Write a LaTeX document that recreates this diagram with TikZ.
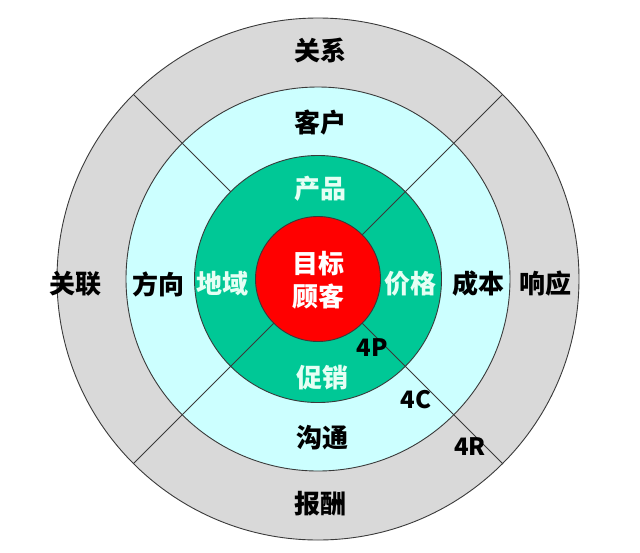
\documentclass[tikz,border=0pt]{standalone}
\usepackage{fontspec}
\newfontfamily\cjk{Noto Sans CJK SC}
\definecolor{ringgray}{HTML}{D9D9D9}
\definecolor{ringcyan}{HTML}{CCFFFF}
\definecolor{ringgreen}{HTML}{00C896}
\definecolor{ringred}{HTML}{FF0000}
\definecolor{edge}{HTML}{3A3A3A}
\definecolor{greentext}{HTML}{E6FFF4}
\begin{document}
\begin{tikzpicture}[x=1pt,y=-1pt,
  ring/.style={circle,draw=edge,line width=0.9pt,inner sep=0pt,outer sep=0pt},
  divider/.style={draw=edge,line width=0.8pt},
  lbl/.style={font=\cjk\bfseries\fontsize{26}{26}\selectfont,text=black,inner sep=0pt},
  glbl/.style={lbl,text=greentext},
  clbl/.style={lbl,text=white,align=center,font=\cjk\bfseries\fontsize{26}{33}\selectfont},
  plbl/.style={font=\cjk\bfseries\fontsize{24}{24}\selectfont,text=black,inner sep=0pt}]
\useasboundingbox (0,0) rectangle (640,552);
\fill[white] (0,0) rectangle (640,552);
\node[ring,fill=ringgray,minimum size=522pt] (outer) at (318,279) {};
\node[ring,fill=ringcyan,minimum size=384pt] (cyan) at (318,279) {};
\node[ring,fill=ringgreen,minimum size=247pt] (green) at (318,279) {};
\node[ring,fill=ringred,minimum size=125pt] (red) at (318,279) {};
\draw[divider] (green.135) -- (outer.135);
\draw[divider] (red.45) -- (outer.45);
\draw[divider] (red.225) -- (outer.225);
\draw[divider] (red.-45) -- (outer.-45);
\node[lbl] (guanxi) at (320,51) {关系};
\node[lbl] (kehu) at (320,123) {客户};
\node[glbl] (chanpin) at (320,189) {产品};
\node[lbl] (guanlian) at (75,284) {关联};
\node[lbl] (fangxiang) at (158,284) {方向};
\node[glbl] (diyu) at (222,284) {地域};
\node[clbl] (mubiao) at (318,280) {目标\\顾客};
\node[glbl] (jiage) at (410,284) {价格};
\node[lbl] (chengben) at (478,284) {成本};
\node[lbl] (xiangying) at (545,284) {响应};
\node[glbl] (cuxiao) at (322,378) {促销};
\node[lbl] (goutong) at (322,438) {沟通};
\node[lbl] (baochou) at (320,504) {报酬};
\node[plbl] (p4) at (372,348) {4P};
\node[plbl] (c4) at (416,400) {4C};
\node[plbl] (r4) at (470,447) {4R};
\end{tikzpicture}
\end{document}
